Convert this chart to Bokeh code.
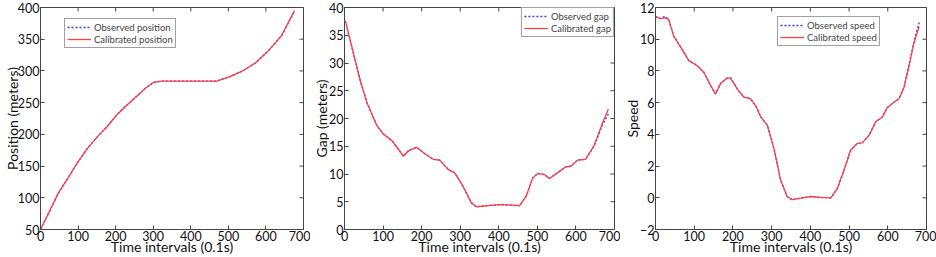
import math
from bokeh.plotting import figure
from bokeh.layouts import row
from bokeh.models import Range1d
from bokeh.embed import file_html
from bokeh.resources import INLINE

# ---- data ----
t_pos = [0, 26, 47, 73, 99, 125, 151, 177, 202, 228, 254, 280, 301, 323, 400, 469, 504, 538, 573, 607, 642, 676]
pos_obs = [50, 81, 107, 131, 156, 178, 196, 212, 230, 245, 259, 273, 282, 284, 284, 284, 291, 300, 313, 332, 356, 394]
pos_cal = [50, 81, 107, 131, 156, 178, 196, 212, 230, 245, 259, 273, 282, 284, 284, 284, 291, 300, 313, 332, 356, 395]

t_gap = [0, 3, 28, 41, 58, 84, 101, 123, 153, 166, 187, 209, 230, 247, 269, 286, 307, 329, 342, 372, 406, 454,
         471, 488, 501, 518, 531, 552, 574, 587, 604, 625, 647, 668, 684]
gap_obs = [37.5, 37.4, 30.4, 26.8, 22.9, 18.7, 17.2, 16.0, 13.2, 14.2, 14.8, 13.6, 12.65, 12.5, 10.8, 10.2, 7.8,
           4.8, 4.1, 4.3, 4.5, 4.3, 6.0, 9.3, 10.1, 9.9, 9.2, 10.2, 11.3, 11.4, 12.5, 12.65, 15.0, 18.7, 20.8]
gap_cal = [37.5, 37.4, 30.4, 26.8, 22.9, 18.7, 17.2, 16.0, 13.2, 14.2, 14.8, 13.6, 12.65, 12.5, 10.8, 10.2, 7.8,
           4.8, 4.1, 4.3, 4.5, 4.3, 6.0, 9.3, 10.1, 9.9, 9.2, 10.2, 11.3, 11.4, 12.5, 12.65, 15.1, 19.0, 21.7]

t_spd = [0, 13, 24, 34, 47, 65, 86, 108, 125, 142, 155, 168, 185, 194, 211, 228, 245, 259, 272, 289, 306, 323,
         340, 353, 375, 401, 427, 453, 470, 487, 504, 521, 534, 552, 569, 586, 599, 616, 629, 642, 655, 668, 681]
spd_obs = [11.42, 11.3, 11.45, 11.25, 10.2, 9.5, 8.65, 8.33, 7.9, 7.1, 6.55, 7.2, 7.55, 7.55, 6.87, 6.35, 6.25,
           5.8, 5.1, 4.57, 3.1, 1.13, 0.08, -0.12, -0.02, 0.08, 0.02, 0.0, 0.6, 1.75, 3.0, 3.42, 3.46, 3.95,
           4.8, 5.1, 5.7, 6.03, 6.25, 6.97, 8.4, 9.9, 11.05]
spd_cal = [11.42, 11.3, 11.35, 11.25, 10.2, 9.5, 8.65, 8.33, 7.9, 7.1, 6.55, 7.2, 7.55, 7.55, 6.87, 6.35, 6.25,
           5.8, 5.1, 4.57, 3.1, 1.13, 0.08, -0.12, -0.02, 0.08, 0.02, 0.0, 0.6, 1.75, 3.0, 3.42, 3.46, 3.95,
           4.8, 5.1, 5.7, 6.03, 6.25, 6.97, 8.33, 9.8, 10.8]

x_ticks = [0, 100, 200, 300, 400, 500, 600, 700]
pos_ticks = [50, 100, 150, 200, 250, 300, 350, 400]
gap_ticks = [0, 5, 10, 15, 20, 25, 30, 35, 40]
spd_ticks = [-2, 0, 2, 4, 6, 8, 10, 12]

FONT = "Lato"
AX = "#444444"
TXT = "#111111"


def make(width, bl, br, yr, yticks, ylabel, y_stand, t, obs, cal, obs_lab, cal_lab, leg_loc):
    p = figure(width=width, height=257, x_range=Range1d(0, 700), y_range=Range1d(*yr),
               output_backend="svg", toolbar_location=None,
               min_border_left=bl, min_border_right=br, min_border_top=7, min_border_bottom=26)
    p.xgrid.visible = False
    p.ygrid.visible = False
    p.outline_line_color = AX
    p.outline_line_width = 1
    p.xaxis.ticker = x_ticks
    p.yaxis.ticker = yticks
    for ax in p.axis:
        ax.axis_line_color = AX
        ax.major_tick_line_color = AX
        ax.major_tick_in = 4
        ax.major_tick_out = 0
        ax.minor_tick_line_color = None
        ax.major_label_text_font = FONT
        ax.major_label_text_font_size = "12.5px"
        ax.major_label_text_color = TXT
        ax.major_label_standoff = 1
        ax.axis_label_text_font = FONT
        ax.axis_label_text_font_size = "14px"
        ax.axis_label_text_font_style = "normal"
        ax.axis_label_text_color = TXT
    p.xaxis.axis_label = "Time intervals (0.1s)"
    p.xaxis.axis_label_standoff = -6
    p.yaxis.axis_label = ylabel
    p.yaxis.axis_label_standoff = y_stand
    # inward ticks on the top and right edges of the box (clipped to the frame)
    p.scatter(x_ticks, [yr[1]] * len(x_ticks), marker="dash", size=8, angle=math.pi / 2,
              line_color=AX, line_width=1)
    p.scatter([700] * len(yticks), yticks, marker="dash", size=8, line_color=AX, line_width=1)
    p.line(t, obs, color="#3a3aff", line_width=1.4, line_dash="2 2", legend_label=obs_lab)
    p.line(t, cal, color="#ff4040", line_width=1.3, legend_label=cal_lab)
    lg = p.legend[0]
    lg.location = leg_loc
    lg.margin = 0
    lg.padding = 2
    lg.spacing = 0
    lg.label_text_font = FONT
    lg.label_text_font_size = "9.5px"
    lg.label_height = 12
    lg.glyph_height = 12
    lg.glyph_width = 24
    lg.label_standoff = 3
    lg.border_line_color = AX
    lg.border_line_width = 1
    lg.background_fill_alpha = 1
    return p


p1 = make(310, 32, 7, (50, 400), pos_ticks, "Position (meters)", -6, t_pos, pos_obs, pos_cal,
          "Observed position", "Calibrated position", (24, 181))
p2 = make(310, 32, 6, (0, 40), gap_ticks, "Gap (meters)", -4, t_gap, gap_obs, gap_cal,
          "Observed gap", "Calibrated gap", "top_right")
p3 = make(316, 35, 10, (-2, 12), spd_ticks, "Speed", -4, t_spd, spd_obs, spd_cal,
          "Observed speed", "Calibrated speed", (122, 183))

layout = row(p1, p2, p3, spacing=0)
open("out.html", "w").write(file_html(layout, INLINE))
